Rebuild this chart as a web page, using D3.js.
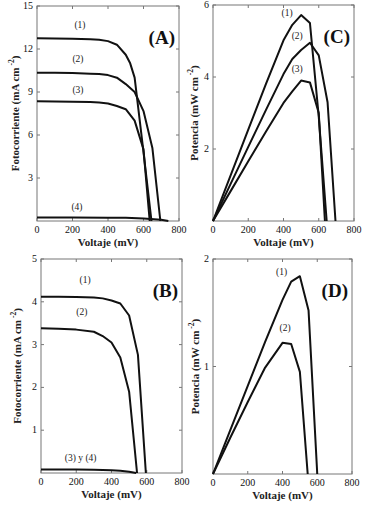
<!DOCTYPE html>
<html>
<head>
<meta charset="utf-8">
<script src="https://cdn.jsdelivr.net/npm/d3@7"></script>
<style>
  body { margin: 0; background: #fff; }
</style>
</head>
<body>
<script>
// Panel A: photocurrent (mA cm-2) vs voltage (mV)
const vA1 = [0, 100, 200, 300, 350, 400, 450, 500, 525, 550, 600, 645];
const jA1 = [12.75, 12.74, 12.72, 12.68, 12.64, 12.55, 12.3, 11.6, 11.0, 10.0, 4.8, 0];
const vA2 = [0, 100, 200, 300, 350, 400, 450, 500, 550, 600, 650, 695];
const jA2 = [10.35, 10.34, 10.32, 10.28, 10.25, 10.18, 10.0, 9.55, 9.0, 7.67, 5.1, 0];
const vA3 = [0, 100, 200, 300, 350, 400, 450, 500, 550, 600, 635];
const jA3 = [8.35, 8.34, 8.32, 8.3, 8.27, 8.2, 8.02, 7.8, 7.0, 5.0, 0];
const vA4 = [0, 200, 400, 500, 600, 700, 740];
const jA4 = [0.25, 0.25, 0.23, 0.22, 0.18, 0.08, 0];

// Panel C: power (mW cm-2) vs voltage (mV)
const vC1 = [0, 100, 200, 300, 400, 450, 500, 550, 600, 645];
const pC1 = [0, 1.27, 2.54, 3.8, 5.02, 5.45, 5.72, 5.5, 2.9, 0];
const vC2 = [0, 100, 200, 300, 400, 450, 500, 550, 600, 650, 695];
const pC2 = [0, 1.03, 2.06, 3.08, 4.08, 4.5, 4.75, 4.95, 4.6, 3.3, 0];
const vC3 = [0, 100, 200, 300, 400, 450, 500, 550, 600, 635];
const pC3 = [0, 0.83, 1.66, 2.48, 3.28, 3.6, 3.9, 3.85, 3.0, 0];

// Panel B: photocurrent vs voltage
const vB1 = [0, 100, 200, 300, 350, 400, 450, 500, 550, 595];
const jB1 = [4.12, 4.12, 4.11, 4.1, 4.08, 4.03, 3.96, 3.68, 2.76, 0];
const vB2 = [0, 100, 200, 300, 350, 400, 450, 500, 545];
const jB2 = [3.38, 3.37, 3.35, 3.3, 3.2, 3.05, 2.7, 1.9, 0];
const vB3 = [0, 200, 300, 400, 450, 500, 540];
const jB3 = [0.08, 0.08, 0.075, 0.065, 0.05, 0.03, 0];

// Panel D: power vs voltage
const vD1 = [0, 100, 200, 300, 400, 450, 500, 550, 600];
const pD1 = [0, 0.41, 0.82, 1.23, 1.62, 1.79, 1.84, 1.52, 0];
const vD2 = [0, 100, 200, 300, 400, 450, 500, 545];
const pD2 = [0, 0.34, 0.67, 0.99, 1.22, 1.21, 0.95, 0];

const xTicks = [0, 200, 400, 600, 800];
const FONT = "'Liberation Serif', 'Times New Roman', 'DejaVu Serif', serif";

const panels = [
  { tag: "(A)", box: [37, 6, 179, 221], yMax: 15, yTicks: [3, 6, 9, 12, 15], ylab: "Fotocorriente (mA cm", labX: 15,
    series: [[vA1, jA1], [vA2, jA2], [vA3, jA3], [vA4, jA4]],
    notes: [["(1)", 242, 13.5], ["(2)", 231, 11.1], ["(3)", 231, 8.9], ["(4)", 225, 0.77]] },
  { tag: "(C)", box: [213, 5, 354, 221], yMax: 6, yTicks: [2, 4, 6], ylab: "Potencia (mW cm", labX: 194,
    series: [[vC1, pC1], [vC2, pC2], [vC3, pC3]],
    notes: [["(1)", 420, 5.7], ["(2)", 478, 5.05], ["(3)", 478, 4.15]] },
  { tag: "(B)", box: [41, 259, 182, 473], yMax: 5, yTicks: [1, 2, 3, 4, 5], ylab: "Fotocorriente (mA cm", labX: 17,
    series: [[vB1, jB1], [vB2, jB2], [vB3, jB3]],
    notes: [["(1)", 250, 4.45], ["(2)", 232, 3.7], ["(3) y (4)", 225, 0.27]] },
  { tag: "(D)", box: [213, 259, 352, 474], yMax: 2, yTicks: [1, 2], ylab: "Potencia (mW cm", labX: 195,
    series: [[vD1, pD1], [vD2, pD2]],
    notes: [["(1)", 395, 1.85], ["(2)", 415, 1.33]] }
];

const svg = d3.select("body").append("svg")
  .attr("width", 365)
  .attr("height", 508)
  .style("display", "block")
  .attr("font-family", FONT);

panels.forEach(p => {
  const [x0, y0, x1, y1] = p.box;
  const x = d3.scaleLinear().domain([0, 800]).range([x0, x1]);
  const y = d3.scaleLinear().domain([0, p.yMax]).range([y1, y0]);
  const g = svg.append("g");

  // frame
  g.append("rect")
    .attr("x", x0).attr("y", y0)
    .attr("width", x1 - x0).attr("height", y1 - y0)
    .attr("fill", "none").attr("stroke", "#777").attr("stroke-width", 1);

  // inward ticks on all four sides
  const tk = 3;
  xTicks.forEach(t => {
    g.append("line").attr("x1", x(t)).attr("x2", x(t)).attr("y1", y1).attr("y2", y1 - tk).attr("stroke", "#777");
    g.append("line").attr("x1", x(t)).attr("x2", x(t)).attr("y1", y0).attr("y2", y0 + tk).attr("stroke", "#777");
    g.append("text").attr("x", x(t)).attr("y", y1 + 12)
      .attr("font-family", FONT)
      .attr("text-anchor", "middle").attr("font-size", 10).attr("fill", "#111").text(t);
  });
  p.yTicks.forEach(t => {
    g.append("line").attr("x1", x0).attr("x2", x0 + tk).attr("y1", y(t)).attr("y2", y(t)).attr("stroke", "#777");
    g.append("line").attr("x1", x1).attr("x2", x1 - tk).attr("y1", y(t)).attr("y2", y(t)).attr("stroke", "#777");
    g.append("text").attr("x", x0 - 4).attr("y", y(t) + 3)
      .attr("font-family", FONT)
      .attr("text-anchor", "end").attr("font-size", 10).attr("fill", "#111").text(t);
  });

  // curves
  const line = d3.line().x(d => x(d[0])).y(d => y(d[1]));
  p.series.forEach(([vs, ys]) => {
    g.append("path")
      .datum(vs.map((v, i) => [v, ys[i]]))
      .attr("d", line)
      .attr("fill", "none")
      .attr("stroke", "#111")
      .attr("stroke-width", 2)
      .attr("stroke-linejoin", "round");
  });

  // curve labels
  p.notes.forEach(([txt, v, val]) => {
    g.append("text").attr("x", x(v)).attr("y", y(val))
      .attr("font-family", FONT)
      .attr("text-anchor", "middle").attr("font-size", 9.5).attr("fill", "#222").text(txt);
  });

  // panel tag
  g.append("text")
    .attr("x", x1 - 4).attr("y", y0 + 38)
    .attr("font-family", FONT)
    .attr("text-anchor", "end")
    .attr("font-size", 19).attr("font-weight", "bold").attr("fill", "#111")
    .text(p.tag);

  // axis titles
  g.append("text")
    .attr("x", (x0 + x1) / 2).attr("y", y1 + 25)
    .attr("font-family", FONT)
    .attr("text-anchor", "middle")
    .attr("font-size", 11).attr("font-weight", "bold").attr("fill", "#222")
    .text("Voltaje (mV)");

  const yt = g.append("text")
    .attr("transform", `translate(${p.labX + 4},${(y0 + y1) / 2}) rotate(-90)`)
    .attr("font-family", FONT)
    .attr("text-anchor", "middle")
    .attr("font-size", 11).attr("font-weight", "bold").attr("fill", "#222");
  yt.append("tspan").text(p.ylab);
  yt.append("tspan").attr("font-size", 7.5).attr("dy", -5).text(" -2");
  yt.append("tspan").attr("dy", 5).text(")");
});
</script>
</body>
</html>
